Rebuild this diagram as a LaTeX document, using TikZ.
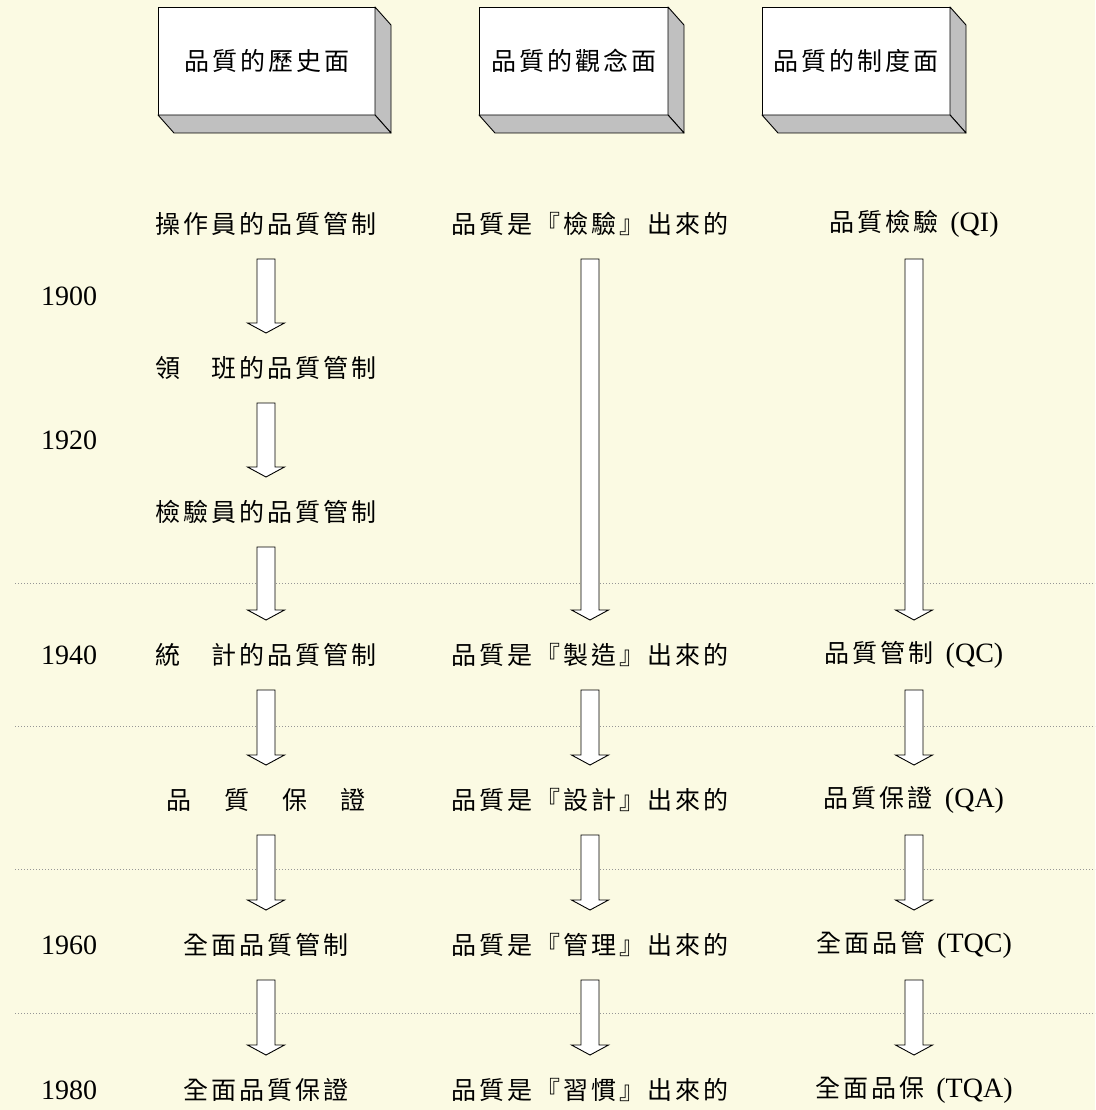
\documentclass[tikz,border=0pt]{standalone}
\usepackage{fontspec}
\setmainfont{Liberation Serif}
\newfontfamily\cjk[LetterSpace=12]{Noto Sans CJK TC}
\usetikzlibrary{calc}

\definecolor{paper}{RGB}{251,250,227}
\definecolor{sidegray}{RGB}{192,192,192}
\definecolor{dotgray}{RGB}{150,150,150}

\newcommand{\lat}[1]{{\rmfamily\fontsize{28}{32}\selectfont #1}}
% hollow block arrow, 35 below one row down to 35 above the next
\newcommand{\flowarrow}[2]{%
  \draw[hollow] ($(#1)+(-9,35)$) -- ($(#2)+(-9,-45)$) -- ($(#2)+(-18.5,-45)$)
    -- ($(#2)+(0,-35)$) -- ($(#2)+(18.5,-45)$) -- ($(#2)+(9,-45)$)
    -- ($(#1)+(9,35)$) -- cycle;}

\tikzset{
  hollow/.style={draw=black, fill=white, line width=0.9pt},
  face/.style={draw=black, fill=white, line width=0.9pt, outer sep=0pt,
    minimum height=108pt, font=\cjk\fontsize{25}{30}\selectfont},
  side/.style={draw=black, fill=sidegray, line width=0.9pt, line join=round},
  item/.style={font=\cjk\fontsize{25}{30}\selectfont, inner sep=0pt},
  year/.style={font=\fontsize{28}{32}\selectfont, inner sep=0pt},
  grid line/.style={dotgray, line width=0.8pt, dash pattern=on 1pt off 2pt}
}

\begin{document}
\begin{tikzpicture}[x=1pt, y=-1pt]

\fill[paper] (0,0) rectangle (1095,1110);
\useasboundingbox (0,0) rectangle (1095,1110);

% the three headings
\node[face, minimum width=217pt] (hist) at (266.5,61) {品質的歷史面};
\node[face, minimum width=189pt] (idea) at (573.5,61) {品質的觀念面};
\node[face, minimum width=188pt] (rule) at (856,61) {品質的制度面};

\foreach \b in {hist,idea,rule} {
  \draw[side] (\b.north east) -- ++(16,18) -- ($(\b.south east)+(16,18)$) -- (\b.south east) -- cycle;
  \draw[side] (\b.south west) -- (\b.south east) -- ++(16,18) -- ($(\b.south west)+(16,18)$) -- cycle;
}

% dotted separators
\foreach \y in {583,726,869,1013}
  \draw[grid line] (15,\y) -- (1095,\y);

% history column
\node[item] (h0) at (266,224) {操作員的品質管制};
\node[item] (h1) at (266,368) {領　班的品質管制};
\node[item] (h2) at (266,512) {檢驗員的品質管制};
\node[item] (h3) at (266,655) {統　計的品質管制};
\node[item] (h4) at (266,800) {品\hspace{33pt}質\hspace{33pt}保\hspace{33pt}證};
\node[item] (h5) at (266,945) {全面品質管制};
\node[item] (h6) at (266,1090) {全面品質保證};

% concept column
\node[item] (c0) at (590,224) {品質是『檢驗』出來的};
\node[item] (c3) at (590,655) {品質是『製造』出來的};
\node[item] (c4) at (590,800) {品質是『設計』出來的};
\node[item] (c5) at (590,945) {品質是『管理』出來的};
\node[item] (c6) at (590,1090) {品質是『習慣』出來的};

% system column
\node[item] (s0) at (914,224) {品質檢驗\hspace{12pt}\lat{(QI)}};
\node[item] (s3) at (914,655) {品質管制\hspace{12pt}\lat{(QC)}};
\node[item] (s4) at (914,800) {品質保證\hspace{12pt}\lat{(QA)}};
\node[item] (s5) at (914,945) {全面品管\hspace{12pt}\lat{(TQC)}};
\node[item] (s6) at (914,1090) {全面品保\hspace{12pt}\lat{(TQA)}};

% years
\node[year] (y1900) at (69,296) {1900};
\node[year] (y1920) at (69,440) {1920};
\node[year] (y1940) at (69,655) {1940};
\node[year] (y1960) at (69,945) {1960};
\node[year] (y1980) at (69,1090) {1980};

\foreach \a/\b in {h0/h1,h1/h2,h2/h3,h3/h4,h4/h5,h5/h6,
                   c0/c3,c3/c4,c4/c5,c5/c6,
                   s0/s3,s3/s4,s4/s5,s5/s6}
  \flowarrow{\a}{\b};

\end{tikzpicture}
\end{document}
